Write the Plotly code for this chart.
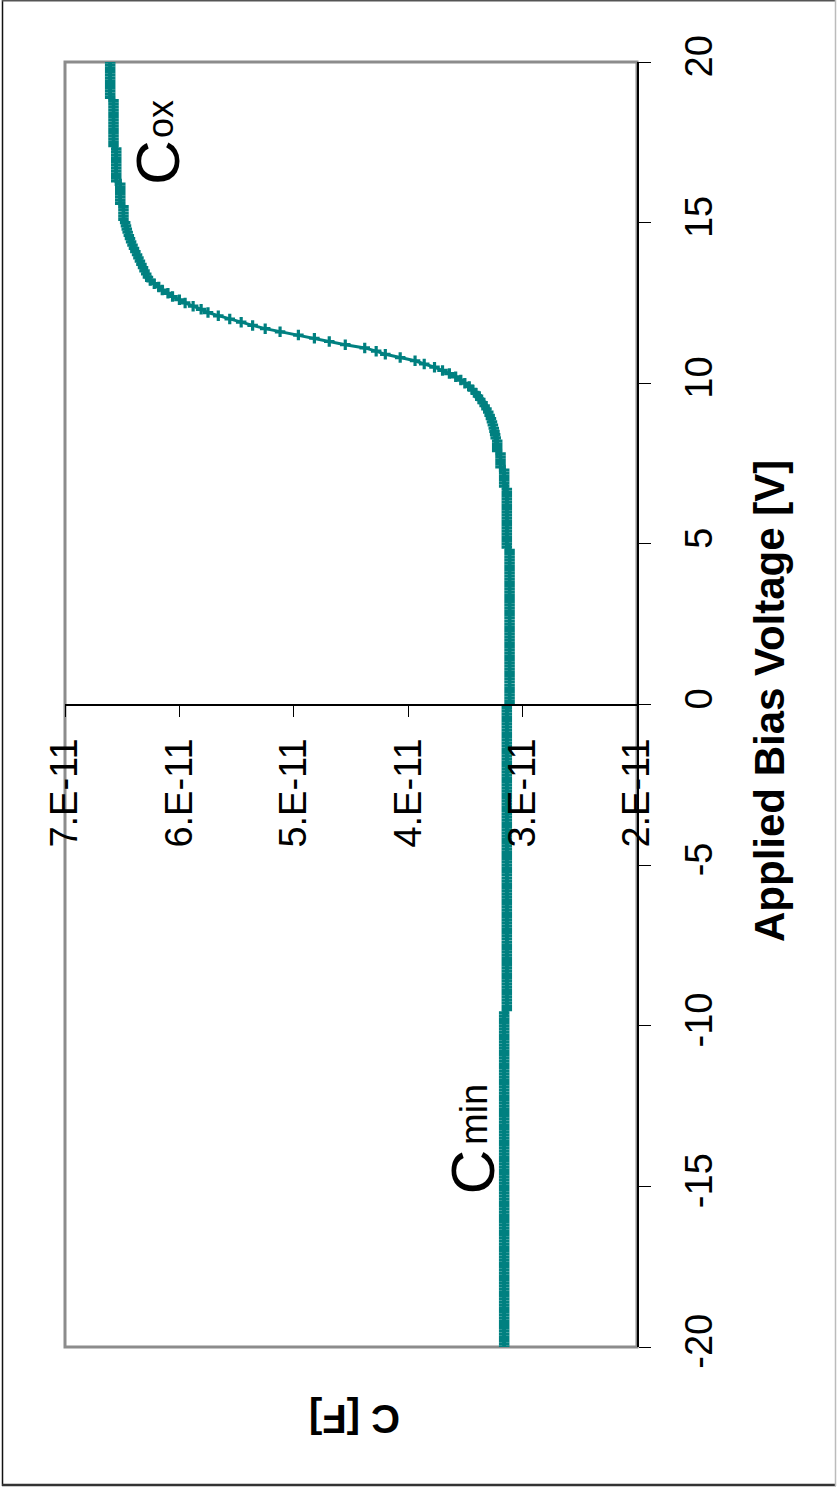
import plotly.graph_objects as go

# ---------------- data ----------------
# Applied bias voltage [V], measured every 0.1 V from -20 to 20
volts = [round(-20 + 0.1 * i, 1) for i in range(401)]

# Capacitance, in units of 1E-11 F
cap_e11 = [
    # -20.0 .. -9.6 V
    3.161, 3.161, 3.161, 3.161, 3.161, 3.161, 3.161, 3.161, 3.161, 3.161, 3.161, 3.161, 3.161, 3.161, 3.161,
    3.161, 3.161, 3.161, 3.161, 3.161, 3.161, 3.161, 3.161, 3.161, 3.161, 3.161, 3.161, 3.161, 3.161, 3.161,
    3.161, 3.161, 3.161, 3.161, 3.161, 3.161, 3.161, 3.161, 3.161, 3.161, 3.161, 3.161, 3.161, 3.161, 3.161,
    3.161, 3.161, 3.161, 3.161, 3.161, 3.161, 3.161, 3.161, 3.161, 3.161, 3.161, 3.161, 3.161, 3.161, 3.161,
    3.161, 3.161, 3.161, 3.161, 3.161, 3.161, 3.161, 3.161, 3.161, 3.161, 3.161, 3.161, 3.161, 3.161, 3.161,
    3.161, 3.161, 3.161, 3.161, 3.161, 3.161, 3.161, 3.161, 3.161, 3.161, 3.161, 3.161, 3.161, 3.161, 3.161,
    3.161, 3.161, 3.161, 3.161, 3.161, 3.161, 3.161, 3.161, 3.161, 3.161, 3.161, 3.161, 3.161, 3.161, 3.161,
    # -9.5 .. -0.1 V
    3.138, 3.138, 3.138, 3.138, 3.138, 3.138, 3.138, 3.138, 3.138, 3.138, 3.138, 3.138, 3.138, 3.138, 3.138,
    3.138, 3.138, 3.138, 3.138, 3.138, 3.138, 3.138, 3.138, 3.138, 3.138, 3.138, 3.138, 3.138, 3.138, 3.138,
    3.138, 3.138, 3.138, 3.138, 3.138, 3.138, 3.138, 3.138, 3.138, 3.138, 3.138, 3.138, 3.138, 3.138, 3.138,
    3.138, 3.138, 3.138, 3.138, 3.138, 3.138, 3.138, 3.138, 3.138, 3.138, 3.138, 3.138, 3.138, 3.138, 3.138,
    3.138, 3.138, 3.138, 3.138, 3.138, 3.138, 3.138, 3.138, 3.138, 3.138, 3.138, 3.138, 3.138, 3.138, 3.138,
    3.138, 3.138, 3.138, 3.138, 3.138, 3.138, 3.138, 3.138, 3.138, 3.138, 3.138, 3.138, 3.138, 3.138, 3.138,
    3.138, 3.138, 3.138, 3.138, 3.138,
    # 0.0 .. 4.8 V
    3.114, 3.114, 3.114, 3.114, 3.114, 3.114, 3.114, 3.114, 3.114, 3.114, 3.114, 3.114, 3.114, 3.114, 3.114,
    3.114, 3.114, 3.114, 3.114, 3.114, 3.114, 3.114, 3.114, 3.114, 3.114, 3.114, 3.114, 3.114, 3.114, 3.114,
    3.114, 3.114, 3.114, 3.114, 3.114, 3.114, 3.114, 3.114, 3.114, 3.114, 3.114, 3.114, 3.114, 3.114, 3.114,
    3.114, 3.114, 3.114, 3.114,
    # 4.9 .. 6.7 V
    3.138, 3.138, 3.138, 3.138, 3.138, 3.138, 3.138, 3.138, 3.138, 3.138, 3.138, 3.138, 3.138, 3.138, 3.138,
    3.138, 3.138, 3.138, 3.138,
    # 6.8 .. 7.3 V
    3.161, 3.161, 3.161, 3.161, 3.161, 3.161,
    # 7.4 .. 7.8 V
    3.193, 3.193, 3.193, 3.193, 3.193,
    # 7.9 .. 8.2 V
    3.222, 3.222, 3.222, 3.222,
    # 8.3 .. 8.9 V
    3.235, 3.240, 3.246, 3.252, 3.260, 3.268, 3.277,
    # 9.0 .. 9.9 V
    3.288, 3.300, 3.316, 3.332, 3.350, 3.370, 3.390, 3.410, 3.440, 3.466,
    # 10.0 .. 10.9 V
    3.505, 3.540, 3.585, 3.640, 3.700, 3.770, 3.860, 3.940, 4.070, 4.200,
    # 11.0 .. 11.9 V
    4.280, 4.380, 4.550, 4.690, 4.820, 4.960, 5.120, 5.250, 5.360, 5.460,
    # 12.0 .. 12.9 V
    5.560, 5.660, 5.750, 5.810, 5.880, 5.950, 6.000, 6.060, 6.100, 6.150,
    # 13.0 .. 13.9 V
    6.180, 6.220, 6.255, 6.275, 6.290, 6.305, 6.318, 6.332, 6.345, 6.358,
    # 14.0 .. 14.9 V
    6.370, 6.385, 6.397, 6.410, 6.422, 6.432, 6.442, 6.452, 6.460, 6.467,
    # 15.0 V
    6.474,
    # 15.1 .. 15.5 V
    6.489, 6.489, 6.489, 6.489, 6.489,
    # 15.6 .. 16.2 V
    6.517, 6.517, 6.517, 6.517, 6.517, 6.517, 6.517,
    # 16.3 .. 17.3 V
    6.552, 6.552, 6.552, 6.552, 6.552, 6.552, 6.552, 6.552, 6.552, 6.552, 6.552,
    # 17.4 .. 18.8 V
    6.576, 6.576, 6.576, 6.576, 6.576, 6.576, 6.576, 6.576, 6.576, 6.576, 6.576, 6.576, 6.576, 6.576, 6.576,
    # 18.9 .. 20.0 V
    6.605, 6.605, 6.605, 6.605, 6.605, 6.605, 6.605, 6.605, 6.605, 6.605, 6.605, 6.605,
]
assert len(cap_e11) == len(volts), (len(cap_e11), len(volts))
cap_f = [c * 1e-11 for c in cap_e11]

c_ticks = [7e-11, 6e-11, 5e-11, 4e-11, 3e-11, 2e-11]
c_labels = ["7.E-11", "6.E-11", "5.E-11", "4.E-11", "3.E-11", "2.E-11"]
v_ticks = [-20, -15, -10, -5, 0, 5, 10, 15, 20]
v_labels = ["-20", "-15", "-10", "-5", "0", "5", "10", "15", "20"]

# ---------------- layout helpers ----------------
W, H = 837, 1492
L, R, T, B = 65, 637, 62, 1347
FONT = "Liberation Sans, Arial, sans-serif"
TEAL = "#008080"


def px(x):
    return (x - L) / (R - L)


def py(y):
    return (B - y) / (B - T)


def hline(y, x0, x1, color, width):
    return dict(type="line", xref="paper", yref="paper", x0=px(x0), x1=px(x1),
                y0=py(y), y1=py(y), line=dict(color=color, width=width), layer="below")


def vline(x, y0, y1, color, width):
    return dict(type="line", xref="paper", yref="paper", x0=px(x), x1=px(x),
                y0=py(y0), y1=py(y1), line=dict(color=color, width=width), layer="below")


fig = go.Figure()
fig.add_trace(go.Scatter(
    x=cap_f, y=volts, mode="lines+markers",
    line=dict(color=TEAL, width=3),
    marker=dict(symbol="cross-thin", size=7.5, color=TEAL,
                line=dict(color=TEAL, width=3.2)),
    hoverinfo="skip", showlegend=False,
))

fig.update_layout(
    width=W, height=H,
    margin=dict(l=L, r=W - R, t=T, b=H - B, pad=0),
    paper_bgcolor="white", plot_bgcolor="white",
    font=dict(family=FONT, color="black"),
    xaxis=dict(
        range=[7e-11, 2e-11], tickmode="array", tickvals=c_ticks, ticktext=c_labels,
        tickangle=-90, ticks="outside", ticklen=12, tickwidth=1, tickcolor="black",
        showline=True, linecolor="black", linewidth=1.5,
        anchor="free", position=0.5, showgrid=False, zeroline=False,
        tickfont=dict(family=FONT, size=38, color="black"),
        ticklabelstandoff=6, automargin=False, fixedrange=True,
    ),
    yaxis=dict(
        range=[-20, 20], side="right", tickmode="array", tickvals=v_ticks, ticktext=v_labels,
        tickangle=-90, ticks="outside", ticklen=12, tickwidth=1, tickcolor="black",
        showline=True, linecolor="black", linewidth=2,
        showgrid=False, zeroline=False,
        tickfont=dict(family=FONT, size=38, color="black"),
        ticklabelstandoff=15, automargin=False, fixedrange=True,
    ),
    shapes=[
        dict(type="rect", xref="paper", yref="paper", x0=0, x1=1, y0=0, y1=1,
             line=dict(color="#8c8c8c", width=3), layer="below"),
        vline(2.5, 0, 1486, "#111111", 1.5),
        hline(0.8, 2, 836, "#555555", 1.5),
        hline(1485, 2, 836, "#333333", 2.5),
        vline(835.5, 0, 1486, "#bbbbbb", 1.5),
    ],
    annotations=[
        dict(text="<b>Applied Bias Voltage [V]</b>", x=px(769), y=py(701),
             xref="paper", yref="paper", showarrow=False, textangle=-90,
             xanchor="center", yanchor="middle",
             font=dict(family=FONT, size=42, color="black")),
        dict(text="<b>C [F]</b>", x=px(355), y=py(1419),
             xref="paper", yref="paper", showarrow=False, textangle=180,
             xanchor="center", yanchor="middle",
             font=dict(family=FONT, size=40, color="black")),
        dict(text="C", x=px(157), y=py(163),
             xref="paper", yref="paper", showarrow=False, textangle=-90,
             xanchor="center", yanchor="middle",
             font=dict(family=FONT, size=62, color="black")),
        dict(text="ox", x=px(161), y=py(119),
             xref="paper", yref="paper", showarrow=False, textangle=-90,
             xanchor="center", yanchor="middle",
             font=dict(family=FONT, size=36, color="black")),
        dict(text="C", x=px(471.5), y=py(1172),
             xref="paper", yref="paper", showarrow=False, textangle=-90,
             xanchor="center", yanchor="middle",
             font=dict(family=FONT, size=62, color="black")),
        dict(text="min", x=px(474), y=py(1115),
             xref="paper", yref="paper", showarrow=False, textangle=-90,
             xanchor="center", yanchor="middle",
             font=dict(family=FONT, size=38, color="black")),
    ],
)

# Remove the browser's default 8px page margin so the figure fills the window exactly.
fig.write_html(
    "out.html",
    config={"displayModeBar": False},
    post_script="document.body.style.margin='0';document.body.style.overflow='hidden';",
)
